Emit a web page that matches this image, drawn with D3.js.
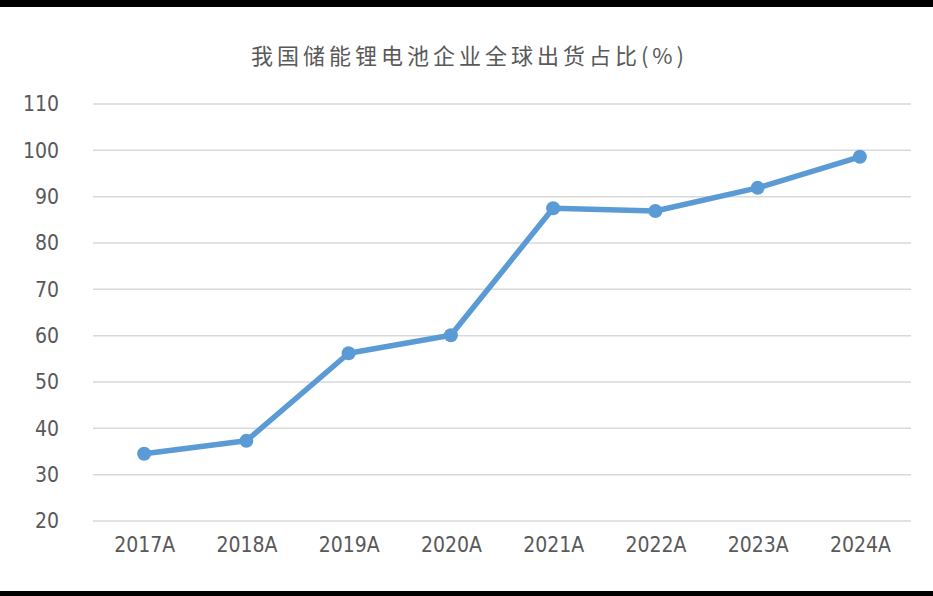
<!DOCTYPE html>
<html>
<head>
<meta charset="utf-8">
<script src="https://cdn.jsdelivr.net/npm/d3@7"></script>
<style>
  body { margin: 0; background: #fff; }
  svg { display: block; }
</style>
</head>
<body>
<div id="chart"></div>
<script>
const years = ['2017A', '2018A', '2019A', '2020A', '2021A', '2022A', '2023A', '2024A'];
const share = [34.5, 37.3, 56.2, 60.1, 87.5, 86.9, 91.9, 98.6];
const yTicks = [20, 30, 40, 50, 60, 70, 80, 90, 100, 110];
const title = '我国储能锂电池企业全球出货占比(%)';

const width = 933, height = 596;
const plotLeft = 93, plotRight = 911, plotTop = 104, plotBottom = 521;

const svg = d3.select('#chart').append('svg')
    .attr('width', width)
    .attr('height', height);

svg.append('rect').attr('width', width).attr('height', height).attr('fill', '#fff');
svg.append('rect').attr('x', 0).attr('y', 0).attr('width', width).attr('height', 7).attr('fill', '#000');
svg.append('rect').attr('x', 0).attr('y', 591).attr('width', width).attr('height', 5).attr('fill', '#000');

const x = d3.scalePoint().domain(years).range([plotLeft, plotRight]).padding(0.5);
const y = d3.scaleLinear().domain([20, 110]).range([plotBottom, plotTop]);

// gridlines
svg.append('g')
    .selectAll('line')
    .data(yTicks)
    .join('line')
    .attr('x1', plotLeft)
    .attr('x2', plotRight)
    .attr('y1', d => y(d))
    .attr('y2', d => y(d))
    .attr('stroke', '#d9d9d9')
    .attr('stroke-width', 1.5);

const yAxis = svg.append('g')
    .attr('transform', `translate(${plotLeft - 34},0)`)
    .call(d3.axisLeft(y).tickValues(yTicks).tickSize(0).tickPadding(0));
yAxis.select('.domain').remove();
yAxis.selectAll('text')
    .attr('fill', '#595959')
    .style('font-family', '"Liberation Sans Narrow", "DejaVu Sans Condensed", Roboto, sans-serif')
    .style('font-size', '21px');

const xAxis = svg.append('g')
    .attr('transform', `translate(0,${plotBottom + 16})`)
    .call(d3.axisBottom(x).tickSize(0).tickPadding(0));
xAxis.select('.domain').remove();
xAxis.selectAll('text')
    .attr('dy', '0.71em')
    .attr('fill', '#595959')
    .style('font-family', '"Liberation Sans Narrow", "DejaVu Sans Condensed", Roboto, sans-serif')
    .style('font-size', '21px');

svg.append('text')
    .attr('x', width / 2 + 3)
    .attr('y', 64)
    .attr('text-anchor', 'middle')
    .attr('fill', '#595959')
    .style('font-family', '"Noto Sans CJK SC", sans-serif')
    .style('font-size', '22px')
    .style('letter-spacing', '4px')
    .text(title);

const line = d3.line()
    .x((d, i) => x(years[i]))
    .y(d => y(d));

svg.append('path')
    .datum(share)
    .attr('d', line)
    .attr('fill', 'none')
    .attr('stroke', '#5b9bd5')
    .attr('stroke-width', 5.5)
    .attr('stroke-linejoin', 'round');

svg.append('g')
    .selectAll('circle')
    .data(share)
    .join('circle')
    .attr('cx', (d, i) => x(years[i]))
    .attr('cy', d => y(d))
    .attr('r', 7)
    .attr('fill', '#5b9bd5');
</script>
</body>
</html>
